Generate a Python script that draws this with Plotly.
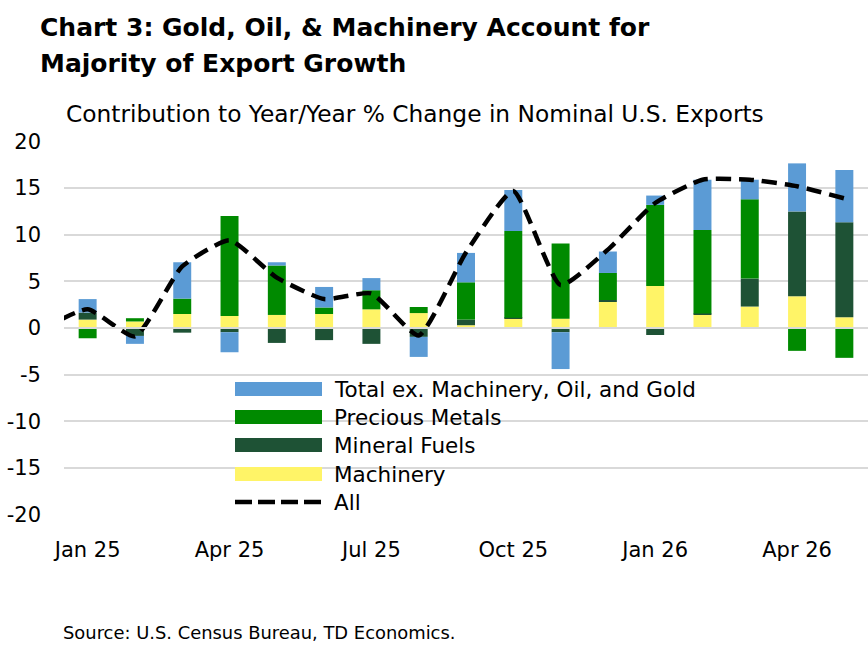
import plotly.graph_objects as go

# ---------------- data ----------------
months = ["Jan 25", "Feb 25", "Mar 25", "Apr 25", "May 25", "Jun 25", "Jul 25", "Aug 25",
          "Sep 25", "Oct 25", "Nov 25", "Dec 25", "Jan 26", "Feb 26", "Mar 26", "Apr 26", "May 26"]
machinery = [0.9, 0.7, 1.5, 1.3, 1.4, 1.5, 2.0, 1.6, 0.3, 1.0, 1.0, 2.8, 4.5, 1.45, 2.3, 3.4, 1.15]
mineral_fuels = [0.75, -0.85, -0.5, -0.45, -1.6, -1.3, -1.7, -0.95, 0.6, 0.1, -0.45, 0.2, -0.75, 0.1, 3.0, 9.1, 10.2]
precious_metals = [-1.1, 0.35, 1.65, 10.7, 5.3, 0.7, 2.05, 0.65, 4.0, 9.3, 8.05, 2.9, 8.7, 8.95, 8.5, -2.45, -3.2]
total_ex = [1.45, -0.85, 3.9, -2.15, 0.35, 2.2, 1.3, -2.15, 3.15, 4.4, -3.95, 2.3, 1.0, 5.4, 2.1, 5.15, 5.6]
all_prev = -0.2   # Dec 24 value (line enters from the left edge)
all_total = [2.0, -0.9, 6.6, 9.4, 5.4, 3.1, 3.7, -0.8, 8.1, 14.7, 4.6, 8.4, 13.4, 15.9, 15.9, 15.2, 13.9]
y_ticks = [-20, -15, -10, -5, 0, 5, 10, 15, 20]

title_lines = ["Chart 3: Gold, Oil, & Machinery Account for", "Majority of Export Growth"]
subtitle = "Contribution to Year/Year % Change in Nominal U.S. Exports"
source = "Source: U.S. Census Bureau, TD Economics."

# ---------------- styles ----------------
C_BLUE = "#5B9BD5"
C_GREEN = "#008A00"
C_DGREEN = "#1E5235"
C_YELLOW = "#FFF467"
FONT = "DejaVu Sans"

W, H = 868, 648
L, R, T, B = 64, 0, 141, 133
PW, PH = W - L - R, H - T - B

def px(xp):
    return (xp - L) / PW

def py(yp):
    return (H - B - yp) / PH

x = list(range(len(months)))

series = [
    ("Machinery", machinery, C_YELLOW),
    ("Mineral Fuels", mineral_fuels, C_DGREEN),
    ("Precious Metals", precious_metals, C_GREEN),
    ("Total ex. Machinery, Oil, and Gold", total_ex, C_BLUE),
]

fig = go.Figure()
for name, vals, col in series:
    fig.add_bar(x=x, y=vals, name=name, marker_color=col, marker_line_width=0, showlegend=False)

fig.add_scatter(x=[x[0] - 1] + x, y=[all_prev] + all_total, mode="lines", name="All",
                line=dict(color="black", width=4.5, dash="15px,8px", shape="spline", smoothing=0.5),
                showlegend=False)

shapes = [dict(type="line", xref="paper", yref="y", x0=0, x1=1, y0=0, y1=0,
               line=dict(color="#d9d9d9", width=2), layer="above")]
annotations = []

# manual legend
legend_items = [
    ("Total ex. Machinery, Oil, and Gold", C_BLUE, "bar"),
    ("Precious Metals", C_GREEN, "bar"),
    ("Mineral Fuels", C_DGREEN, "bar"),
    ("Machinery", C_YELLOW, "bar"),
    ("All", "black", "line"),
]
row_y = [389, 417, 445, 474, 502]
for (name, col, kind), ry in zip(legend_items, row_y):
    if kind == "bar":
        shapes.append(dict(type="rect", xref="paper", yref="paper",
                           x0=px(235), x1=px(322), y0=py(ry + 7), y1=py(ry - 7),
                           fillcolor=col, line=dict(width=0), layer="above"))
    else:
        shapes.append(dict(type="line", xref="paper", yref="paper",
                           x0=px(235), x1=px(322), y0=py(ry), y1=py(ry),
                           line=dict(color=col, width=4.5, dash="17px,6px"), layer="above"))
    annotations.append(dict(text=name, xref="paper", yref="paper", x=px(332), y=py(ry),
                            xanchor="left", yanchor="middle", showarrow=False,
                            font=dict(family=FONT, size=21.5, color="black")))

annotations.append(dict(text=title_lines[0], xref="paper", yref="paper", x=px(38), y=py(28),
                        xanchor="left", yanchor="middle", showarrow=False,
                        font=dict(family=FONT, size=25, color="black", weight="bold")))
annotations.append(dict(text=title_lines[1], xref="paper", yref="paper", x=px(38), y=py(63),
                        xanchor="left", yanchor="middle", showarrow=False,
                        font=dict(family=FONT, size=25, color="black", weight="bold")))
annotations.append(dict(text=subtitle, xref="paper", yref="paper", x=px(64), y=py(114),
                        xanchor="left", yanchor="middle", showarrow=False,
                        font=dict(family=FONT, size=23.3, color="black")))
annotations.append(dict(text=source, xref="paper", yref="paper", x=px(61), y=py(632),
                        xanchor="left", yanchor="middle", showarrow=False,
                        font=dict(family=FONT, size=17.9, color="black")))

fig.update_layout(
    width=W, height=H,
    margin=dict(l=L, r=R, t=T, b=B, pad=0),
    paper_bgcolor="white", plot_bgcolor="white",
    barmode="relative", bargap=0.62,
    font=dict(family=FONT, size=21, color="black"),
    shapes=shapes, annotations=annotations,
    xaxis=dict(range=[-0.5, len(months) - 0.5], tickvals=x[::3], ticktext=months[::3],
               showgrid=False, zeroline=False, showline=False, ticks="",
               ticklabelstandoff=20, tickfont=dict(size=21)),
    yaxis=dict(range=[-20.05, 20.05], tickvals=y_ticks, ticktext=[str(v) for v in y_ticks],
               showgrid=True, gridcolor="#d9d9d9", gridwidth=2, zeroline=False,
               showline=False, ticks="", ticklabelstandoff=22, tickfont=dict(size=21)),
)

fig.write_html("out.html")
